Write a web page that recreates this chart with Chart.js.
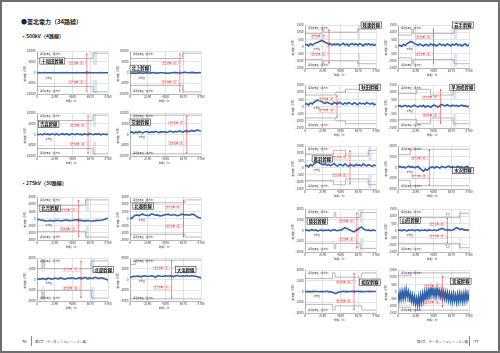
<!DOCTYPE html>
<html>
<head>
<meta charset="utf-8">
<script src="https://cdn.jsdelivr.net/npm/chart.js@4.4.0/dist/chart.umd.min.js"></script>
<style>
  html, body { margin: 0; padding: 0; background: #fff; }
  #spread { position: relative; width: 500px; height: 353px; overflow: hidden; background: #fff;
            font-family: "Noto Sans CJK JP", "Noto Sans", sans-serif; color: #222; }
  #frame { position: absolute; left: 0; top: 0; width: 500px; height: 353px; box-sizing: border-box;
           border: 2px solid #6e6e6e; pointer-events: none; }
  .t { position: absolute; white-space: nowrap; line-height: 1; }
  canvas { position: absolute; }
  .bar { position: absolute; width: 0; border-left: 0.6px solid #888; height: 10px; }
</style>
</head>
<body>
<div id="spread">
  <div class="t" style="left:21px;top:19px;font-size:6px;font-weight:bold;">●東北電力（34路線）</div>
  <div class="t" style="left:21px;top:33px;font-size:5px;font-weight:bold;">・500kV（4路線）</div>
  <div class="t" style="left:21px;top:180px;font-size:5px;font-weight:bold;">・275kV（30路線）</div>

  <div class="t" style="left:22px;top:339px;font-size:4px;">76</div>
  <div class="bar" style="left:31px;top:336px;"></div>
  <div class="t" style="left:35px;top:339.5px;font-size:3.3px;color:#444;">第2章　データシミュレーション編</div>
  <div class="t" style="left:417px;top:339.5px;font-size:3.3px;color:#444;">第2章　データシミュレーション編</div>
  <div class="bar" style="left:469px;top:336px;"></div>
  <div class="t" style="left:474px;top:339px;font-size:4px;">77</div>
  <div id="frame"></div>
</div>

<script>
// ---- 軸の設定 ----
const hourTicks = [0, 2190, 4380, 6570, 8760];
const yTitle = '潮流値（MW）';
const xTitle = '時間（h）';

// ---- 潮流データ（左ページ） ----
const towadaFlow = [-120,-80,-150,-100,-60,-130,-90,-110,-140,-70,-100,-120,-90,-150,-80,-110,-60,-130,-100,-90,-140,-120,-70,-100,-150,-90,-110,-80,-130,-60,-100,-120,-90,-140,-110,-80,-120,-100,-90,-130];
const kitakamiFlow = [-200,-350,-250,-400,-300,-150,-250,-350,-200,-100,-250,-300,-150,-50,-200,-300,-250,-150,-100,-200,-300,-350,-250,-150,-50,0,-100,-200,-150,-50,100,0,-100,-50,50,-50,-150,-100,-50,-150];
const aomoriFlow = [300,-100,200,-200,400,0,250,-150,350,100,-50,300,-200,150,400,-100,250,50,-150,300,200,-100,350,0,150,-200,300,100,-50,400,150,-100,250,50,350,-150,200,100,-50,250];
const jobanFlow = [800,1200,700,1100,900,1300,1000,700,1200,1400,1100,900,1300,1000,1500,1200,900,1300,1100,1400,1000,1200,1600,1300,1100,1500,1200,1700,1400,1100,1500,1800,1300,1600,1900,1500,1800,2100,1700,1600];
const hokuseiFlow = [-100,-150,-200,-250,-300,-350,-320,-280,-300,-350,-300,-250,-280,-320,-300,-260,-220,-250,-300,-280,-240,-200,-180,-230,-260,-300,-330,-300,-280,-320,-350,-330,-300,-260,-280,-240,-200,-150,-50,50];
const hokuoFlow = [100,0,300,450,500,400,550,600,500,450,400,500,650,550,450,500,400,350,450,500,550,600,500,450,550,500,400,450,550,600,500,550,450,500,600,550,400,200,100,50];
const hokubuFlow = [0,100,50,150,100,0,200,150,50,100,200,150,100,250,150,50,100,200,150,250,200,100,150,250,200,150,300,200,100,250,150,200,300,200,150,250,200,100,50,-100];
const ogataFlow = [300,500,600,550,650,600,500,650,700,600,550,650,700,600,400,650,700,600,550,700,650,600,700,650,550,700,750,650,600,700,650,700,600,650,700,650,600,500,400,300];

// ---- 潮流データ（右ページ） ----
const mutsuFlow = [100,150,50,200,100,180,250,300,350,420,380,300,250,150,200,100,180,120,200,80,150,220,100,180,60,160,200,120,180,90,200,140,60,180,120,200,100,160,80,150];
const iwateFlow = [50,100,0,150,80,200,280,350,300,200,150,80,180,100,50,150,120,60,180,100,140,40,120,200,80,150,60,180,120,50,160,100,200,80,150,40,120,180,60,100];
const akitaFlow = [150,200,100,250,180,300,380,450,400,350,280,200,300,250,200,150,280,220,180,300,200,150,250,180,280,200,150,260,200,120,250,180,220,150,280,200,160,240,120,180];
const hayachineFlow = [20,60,-20,40,80,0,60,-40,30,100,20,-30,60,0,80,-50,40,20,-60,50,100,20,-40,60,150,80,40,120,60,20,100,40,80,0,60,100,30,60,-20,40];
const ouFlow = [100,150,50,200,120,250,350,400,300,250,180,280,150,220,120,200,280,150,100,220,180,120,250,150,80,200,160,100,220,140,180,100,250,160,120,200,140,80,180,120];
const mizusawaFlow = [50,100,0,80,-50,60,120,20,80,-40,50,100,-80,-200,-350,-150,-250,-100,0,60,-50,80,20,-60,100,40,-20,60,120,0,80,-40,60,100,20,80,-30,50,100,40];
const rikuuFlow = [0,100,-50,50,100,0,80,-80,50,100,-50,60,0,80,-60,50,100,20,-40,60,80,250,400,300,150,50,-100,-200,50,100,350,500,250,100,0,80,-50,60,20,0];
const yamagataFlow = [0,30,-20,50,10,-30,40,0,60,-10,20,50,-20,30,0,40,-30,60,20,0,50,-10,30,80,150,100,50,20,60,0,40,100,200,150,80,120,60,30,50,20];
const sosoFlow = [0,-30,20,-50,10,-20,40,-10,-40,20,-30,0,30,-20,-50,-100,-200,-300,-150,-60,-20,30,-10,20,-30,10,40,-20,0,30,-10,20,-30,10,0,20,-20,10,0,-10];
const miyagiFlow = [-100,-600,-50,-550,0,-500,50,-450,150,-350,0,-500,-150,-650,-250,-750,-350,-850,-450,-950,-400,-900,-250,-750,-150,-650,-50,-550,50,-450,150,-350,250,-250,200,-300,150,-350,250,-250,100,-400,50,-450,0,-500,-50,-550,-100,-600,-150,-650,-200,-700,-150,-650,-250,-750,-200,-700,-150,-650,-200,-700,-150,-650,-100,-600,-150,-650];

// ---- 運用容量 [時間, 順方向, 逆方向] ----
const towadaCap = [[0,9000,-9000],[6900,6500,-6500],[7400,9000,-9000]];
const kitakamiCap = [[0,9000,-9000],[6500,6500,-6000],[6700,9000,-9000]];
const aomoriCap = [[0,9000,-9000],[6900,6500,-6500],[7300,9000,-9000]];
const jobanCap = [[0,9000,-9000]];
const hokuseiCap = [[0,2600,-2600],[6000,1800,-1800],[6400,2600,-2600]];
const hokuoCap = [[0,2600,-2600],[6800,2200,-2200],[7000,2600,-2600]];
const hokubuCap = [[0,2600,-2600],[600,1500,-1500],[900,2600,-2600],[6700,1500,-1500],[7100,2600,-2600]];
const ogataCap = [[0,3600,-3600],[700,2800,-3600],[800,3600,-3600]];
const mutsuCap = [[0,1200,-1200],[2100,900,-900],[2300,1200,-1200],[6500,1000,-1000],[6800,1200,-1200]];
const iwateCap = [[0,1200,-1200],[1700,800,-800],[1900,1200,-1200],[6900,900,-900],[7300,1200,-1200]];
const akitaCap = [[0,1200,-1200],[3800,800,-800],[5000,1000,-1000],[6600,1200,-1200]];
const hayachineCap = [[0,1200,-1200],[2300,900,-900],[4000,1200,-1200],[6800,800,-800],[7200,1200,-1200]];
const ouCap = [[0,1200,-1200],[3500,900,-900],[5000,1200,-1200],[7800,800,-800],[8200,1200,-1200]];
const mizusawaCap = [[0,1700,-1700],[1500,1200,-1200],[1700,1700,-1700]];
const rikuuCap = [[0,2500,-2500],[3600,1800,-1800],[3800,2500,-2500],[6800,1800,-1800],[7200,2500,-2500]];
const yamagataCap = [[0,1200,-1200],[6000,900,-900],[6300,1200,-1200],[7600,900,-900],[7800,1200,-1200]];
const sosoCap = [[0,2600,-2600],[3400,1800,-1800],[3700,2600,-2600],[7000,2000,-2000],[7300,2600,-2600]];
const miyagiCap = [[0,1300,-1300],[1500,1100,-1100],[5800,1300,-1300]];

// ---- 各グラフ ----
const charts = [
  { name: '十和田幹線', flow: towadaFlow, cap: towadaCap, yMax: 10000, yStep: 5000, redX: 6150, bands: [[6900,7400]] },
  { name: '北上幹線', flow: kitakamiFlow, cap: kitakamiCap, yMax: 10000, yStep: 5000, redX: 6150, bands: [[6500,6700]] },
  { name: '青森幹線', flow: aomoriFlow, cap: aomoriCap, yMax: 10000, yStep: 5000, redX: 6300, bands: [[6900,7300]] },
  { name: '常磐幹線', flow: jobanFlow, cap: jobanCap, yMax: 10000, yStep: 5000, redX: 7000, bands: [] },
  { name: '北青幹線', flow: hokuseiFlow, cap: hokuseiCap, yMax: 3000, yStep: 1000, redX: 5130, bands: [[6000,6400]] },
  { name: '北奥幹線', flow: hokuoFlow, cap: hokuoCap, yMax: 3000, yStep: 1000, redX: 6600, bands: [] },
  { name: '北部幹線', flow: hokubuFlow, cap: hokubuCap, yMax: 3000, yStep: 1500, redX: 5430, bands: [[600,900],[6700,7100]] },
  { name: '大潟幹線', flow: ogataFlow, cap: ogataCap, yMax: 4000, yStep: 2000, redX: 5130, bands: [] },
  { name: '陸奥幹線', flow: mutsuFlow, cap: mutsuCap, yMax: 1500, yStep: 500, redX: 2960, bands: [[6500,6800]] },
  { name: '岩手幹線', flow: iwateFlow, cap: iwateCap, yMax: 1500, yStep: 500, redX: 4380, bands: [[6900,7300]] },
  { name: '秋田幹線', flow: akitaFlow, cap: akitaCap, yMax: 1500, yStep: 500, redX: 3950, bands: [] },
  { name: '早池峰幹線', flow: hayachineFlow, cap: hayachineCap, yMax: 1500, yStep: 500, redX: 5250, bands: [[6800,7200]] },
  { name: '奥羽幹線', flow: ouFlow, cap: ouCap, yMax: 1500, yStep: 500, redX: 5550, bands: [[7800,8200]] },
  { name: '水沢幹線', flow: mizusawaFlow, cap: mizusawaCap, yMax: 2000, yStep: 1000, redX: 3870, bands: [] },
  { name: '陸羽幹線', flow: rikuuFlow, cap: rikuuCap, yMax: 3000, yStep: 1500, redX: 6400, bands: [[6800,7200]] },
  { name: '山形幹線', flow: yamagataFlow, cap: yamagataCap, yMax: 1500, yStep: 500, redX: 6100, bands: [[7600,7800]] },
  { name: '相双幹線', flow: sosoFlow, cap: sosoCap, yMax: 3000, yStep: 1500, redX: 6050, bands: [] },
  { name: '宮城幹線', flow: miyagiFlow, cap: miyagiCap, yMax: 1500, yStep: 500, redX: 5500, bands: [] }
];

// 配置（プロット領域の左上）と名前札の位置（プロット内の割合）
const places = [
  { left: 37, top: 51, fx: 0.04, fy: 0.16 }, { left: 130, top: 51, fx: 0.0, fy: 0.33 },
  { left: 37, top: 113, fx: 0.02, fy: 0.19 }, { left: 130, top: 113, fx: 0.0, fy: 0.14 },
  { left: 37, top: 197, fx: 0.04, fy: 0.19 }, { left: 130, top: 197, fx: 0.04, fy: 0.14 },
  { left: 37, top: 258, fx: 0.79, fy: 0.2 }, { left: 130, top: 258, fx: 0.64, fy: 0.2 },
  { left: 305, top: 25, fx: 0.79, fy: -0.07 }, { left: 398, top: 25, fx: 0.77, fy: -0.07 },
  { left: 305, top: 85, fx: 0.77, fy: -0.02 }, { left: 398, top: 85, fx: 0.73, fy: -0.02 },
  { left: 305, top: 146, fx: 0.1, fy: 0.23 }, { left: 398, top: 146, fx: 0.77, fy: 0.5 },
  { left: 305, top: 209, fx: 0.03, fy: 0.21 }, { left: 398, top: 209, fx: 0.03, fy: 0.19 },
  { left: 305, top: 270, fx: 0.77, fy: 0.21 }, { left: 398, top: 270, fx: 0.74, fy: 0.19 }
];

const PLOT_W = 71, PLOT_H = 43, Y_W = 14, X_H = 9, PAD_T = 5, PAD_R = 8;
const FONT = '"Noto Sans CJK JP", "Noto Sans", sans-serif';
Chart.defaults.font.family = FONT;

function capAt(cap, h, k) {
  let v = cap[0][k];
  cap.forEach(c => { if (c[0] <= h) v = c[k]; });
  return v;
}

function boxedText(ctx, text, x, y, color) {
  const w = ctx.measureText(text).width;
  const x0 = x - w;
  ctx.fillStyle = 'rgba(255,255,255,0.85)';
  ctx.fillRect(x0 - 0.6, y - 1.6, w + 1.2, 3.2);
  ctx.strokeStyle = 'rgba(224,48,48,0.7)';
  ctx.lineWidth = 0.25;
  ctx.strokeRect(x0 - 0.6, y - 1.6, w + 1.2, 3.2);
  ctx.fillStyle = color;
  ctx.fillText(text, x0, y);
}

// 注記（空き容量の矢印、ラベル、名前札）を描くプラグイン
const notesPlugin = {
  id: 'notes',
  beforeDatasetsDraw(chart, args, o) {
    const { ctx, chartArea: a, scales: { x, y } } = chart;
    ctx.save();
    ctx.fillStyle = 'rgba(175, 205, 228, 0.5)';
    o.bands.forEach(([h0, h1]) => {
      const x0 = x.getPixelForValue(h0), x1 = x.getPixelForValue(h1);
      const up = y.getPixelForValue(o.yMax * 0.35), dn = y.getPixelForValue(-o.yMax * 0.35);
      ctx.fillRect(x0, a.top + 1, x1 - x0, up - a.top - 1);
      ctx.fillRect(x0, dn, x1 - x0, a.bottom - dn - 1);
    });
    ctx.restore();
  },
  afterDatasetsDraw(chart, args, o) {
    const { ctx, chartArea: a, scales: { x, y } } = chart;
    const mean = o.flow.reduce((s, v) => s + v, 0) / o.flow.length;
    const px = x.getPixelForValue(o.redX);
    const pm = y.getPixelForValue(mean);
    const pu = y.getPixelForValue(capAt(o.cap, o.redX, 1));
    const pl = y.getPixelForValue(capAt(o.cap, o.redX, 2));
    ctx.save();
    // 空き容量の矢印
    ctx.strokeStyle = '#e03030';
    ctx.fillStyle = '#e03030';
    ctx.lineWidth = 0.5;
    ctx.beginPath();
    ctx.moveTo(px, pu); ctx.lineTo(px, pl);
    ctx.stroke();
    [[pu, 1], [pm, -1], [pm, 1], [pl, -1]].forEach(([py, d]) => {
      ctx.beginPath();
      ctx.moveTo(px, py); ctx.lineTo(px - 0.8, py + 1.4 * d); ctx.lineTo(px + 0.8, py + 1.4 * d);
      ctx.closePath(); ctx.fill();
    });
    ctx.font = '2.2px ' + FONT;
    ctx.textBaseline = 'middle';
    boxedText(ctx, '空き容量（順）', px - 2, (pm + pu) / 2, '#e03030');
    boxedText(ctx, '空き容量（逆）', px - 2, (pm + pl) / 2, '#e03030');
    // 黒の注記
    ctx.fillStyle = '#444';
    ctx.fillText('運用容量値（順方向）', a.left + 3, a.top + 3);
    ctx.fillText('運用容量値（逆方向）', a.left + 3, a.bottom - 3);
    ctx.fillText('平均値', a.left + (a.right - a.left) * 0.12, pm + 5);
    // 名前札
    ctx.font = 'bold 4.4px ' + FONT;
    const w = ctx.measureText(o.name).width;
    const bx = a.left + (a.right - a.left) * o.fx;
    const by = a.top + (a.bottom - a.top) * o.fy;
    ctx.fillStyle = '#fff';
    ctx.fillRect(bx, by, w + 3, 6.2);
    ctx.strokeStyle = '#333';
    ctx.lineWidth = 0.6;
    ctx.strokeRect(bx, by, w + 3, 6.2);
    ctx.fillStyle = '#111';
    ctx.fillText(o.name, bx + 1.5, by + 3.3);
    ctx.restore();
  }
};

function toPoints(values) {
  const n = values.length;
  return values.map((v, i) => ({ x: i * 8760 / (n - 1), y: v }));
}

function capPoints(cap, k) {
  const pts = cap.map(c => ({ x: c[0], y: c[k] }));
  pts.push({ x: 8760, y: cap[cap.length - 1][k] });
  return pts;
}

function drawChart(spec, place) {
  const canvas = document.createElement('canvas');
  const W = Y_W + PLOT_W + PAD_R, H = PAD_T + PLOT_H + X_H;
  canvas.width = W; canvas.height = H;
  canvas.style.width = W + 'px'; canvas.style.height = H + 'px';
  canvas.style.left = (place.left - Y_W) + 'px';
  canvas.style.top = (place.top - PAD_T) + 'px';
  document.getElementById('spread').insertBefore(canvas, document.getElementById('frame'));

  const gray = '#8a8a8a';
  new Chart(canvas.getContext('2d'), {
    type: 'line',
    data: {
      datasets: [
        { data: capPoints(spec.cap, 1), stepped: 'after', borderColor: gray, borderWidth: 0.6, pointRadius: 0 },
        { data: capPoints(spec.cap, 2), stepped: 'after', borderColor: gray, borderWidth: 0.6, pointRadius: 0 },
        { data: toPoints(spec.flow), borderColor: '#2f62a8', borderWidth: 1.6, pointRadius: 0, tension: 0 }
      ]
    },
    options: {
      responsive: false,
      animation: false,
      devicePixelRatio: 1,
      layout: { padding: { top: PAD_T, right: PAD_R, left: 0, bottom: 0 } },
      plugins: {
        legend: { display: false },
        tooltip: { enabled: false },
        notes: { flow: spec.flow, cap: spec.cap, redX: spec.redX, yMax: spec.yMax, bands: spec.bands,
                 name: spec.name, fx: place.fx, fy: place.fy }
      },
      scales: {
        x: {
          type: 'linear', min: 0, max: 8760,
          afterFit: s => { s.height = X_H; },
          afterBuildTicks: s => { s.ticks = hourTicks.map(v => ({ value: v })); },
          ticks: { font: { size: 3.2 }, color: '#444', padding: 1, maxRotation: 0, callback: v => String(v) },
          grid: { color: '#c9c9c9', lineWidth: 0.5, drawTicks: false },
          border: { color: '#999', width: 0.6 },
          title: { display: true, text: xTitle, font: { size: 2.8 }, color: '#444', padding: 0 }
        },
        y: {
          min: -spec.yMax, max: spec.yMax,
          afterFit: s => { s.width = Y_W; },
          ticks: { stepSize: spec.yStep, font: { size: 3.2 }, color: '#444', padding: 1.5, callback: v => String(v) },
          grid: { color: '#c9c9c9', lineWidth: 0.5, drawTicks: false },
          border: { color: '#999', width: 0.6 },
          title: { display: true, text: yTitle, font: { size: 2.8 }, color: '#444', padding: 0 }
        }
      }
    },
    plugins: [notesPlugin]
  });
}

charts.forEach((c, i) => drawChart(c, places[i]));
</script>
</body>
</html>
